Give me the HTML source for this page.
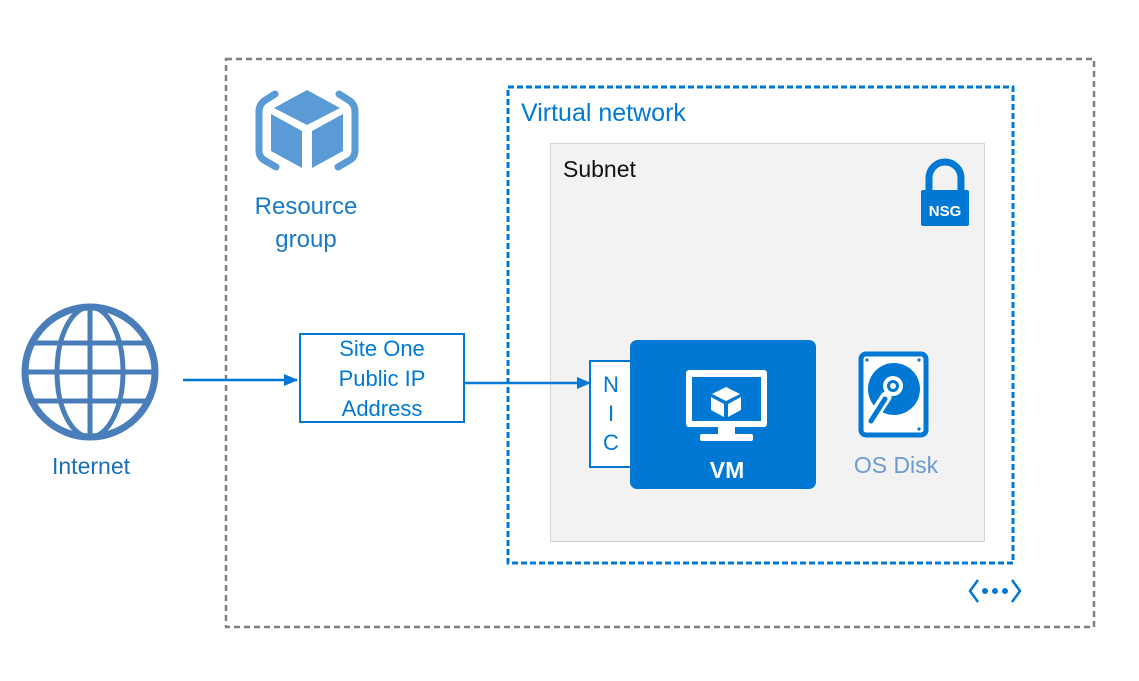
<!DOCTYPE html>
<html><head><meta charset="utf-8"><style>
html,body{margin:0;padding:0;background:#fff;}
svg{display:block;}
text{font-family:"Liberation Sans",sans-serif;}
</style></head><body>
<svg width="1139" height="681" viewBox="0 0 1139 681" xmlns="http://www.w3.org/2000/svg">
<defs>
<marker id="ah" markerWidth="14" markerHeight="14" refX="13" refY="7" orient="auto" markerUnits="userSpaceOnUse">
<path d="M0,1 L14,7 L0,13 z" fill="#0078d4"/>
</marker>
</defs>
<rect x="226" y="59" width="868" height="568" fill="none" stroke="#808080" stroke-width="2.5" stroke-dasharray="6,4"/>
<rect x="508" y="87" width="505" height="476" fill="none" stroke="#0078d4" stroke-width="3" stroke-dasharray="6,3"/>
<rect x="550.5" y="143.5" width="434" height="398" fill="#f2f2f2" stroke="#d4d4d4" stroke-width="1"/>

<!-- resource group icon -->
<g fill="#5a9bd5">
<path d="M275,94 L264,101 Q259,105 259,112 L259,150 Q259,157 264,160 L276,167" stroke="#5a9bd5" stroke-width="7" stroke-linecap="round" stroke-linejoin="round" fill="none"/>
<path d="M339,94 L350,101 Q355,105 355,112 L355,150 Q355,157 350,160 L338,167" stroke="#5a9bd5" stroke-width="7" stroke-linecap="round" stroke-linejoin="round" fill="none"/>
<polygon points="307,90 340,108 307,125 274,108"/>
<polygon points="271,114 302,131 302,168 271,151"/>
<polygon points="343,114 312,131 312,168 343,151"/>
</g>
<text x="306" y="214" font-size="24" fill="#1a7ac7" text-anchor="middle">Resource</text>
<text x="306" y="247" font-size="24" fill="#1a7ac7" text-anchor="middle">group</text>

<text x="521" y="121" font-size="25" fill="#0078d4">Virtual network</text>
<text x="563" y="177" font-size="23" fill="#111">Subnet</text>

<!-- NSG -->
<path d="M929,192 L929,178 A16,16 0 0 1 961,178 L961,192" fill="none" stroke="#0078d4" stroke-width="7"/>
<rect x="921" y="190" width="48" height="36" rx="2" fill="#0078d4"/>
<text x="945" y="216" font-size="15" font-weight="bold" fill="#fff" text-anchor="middle">NSG</text>

<!-- globe -->
<g fill="none" stroke="#4a7ebb" stroke-width="5">
<circle cx="90" cy="372" r="65" stroke-width="7"/>
<ellipse cx="90" cy="372" rx="33" ry="65"/>
<line x1="90" y1="307" x2="90" y2="437"/>
<line x1="27" y1="372" x2="153" y2="372"/>
<line x1="33" y1="343" x2="147" y2="343"/>
<line x1="33" y1="401" x2="147" y2="401"/>
</g>
<text x="91" y="474" font-size="23" fill="#1a6fb8" text-anchor="middle">Internet</text>

<line x1="183" y1="380" x2="297" y2="380" stroke="#0078d4" stroke-width="2.5" marker-end="url(#ah)"/>
<line x1="464" y1="383" x2="590" y2="383" stroke="#0078d4" stroke-width="2.5" marker-end="url(#ah)"/>

<rect x="300" y="334" width="164" height="88" fill="#fff" stroke="#0078d4" stroke-width="2"/>
<text x="382" y="356" font-size="22" fill="#0078d4" text-anchor="middle">Site One</text>
<text x="382" y="386" font-size="22" fill="#0078d4" text-anchor="middle">Public IP</text>
<text x="382" y="416" font-size="22" fill="#0078d4" text-anchor="middle">Address</text>

<rect x="590" y="361" width="44" height="106" fill="#fff" stroke="#0078d4" stroke-width="2"/>
<text x="611" y="392" font-size="22" fill="#0078d4" text-anchor="middle">N</text>
<text x="611" y="421" font-size="22" fill="#0078d4" text-anchor="middle">I</text>
<text x="611" y="450" font-size="22" fill="#0078d4" text-anchor="middle">C</text>

<rect x="630" y="340" width="186" height="149" rx="7" fill="#0078d4"/>
<rect x="686" y="370" width="81" height="57" rx="3" fill="#fff"/>
<rect x="692" y="377" width="69" height="44" fill="#0078d4"/>
<rect x="718" y="427" width="17" height="8" fill="#fff"/>
<rect x="700" y="434" width="53" height="7" rx="2" fill="#fff"/>
<g fill="#fff">
<polygon points="726,387 740,394 726,401 712,394"/>
<polygon points="711,397 724,404 724,417 711,410"/>
<polygon points="741,397 728,404 728,417 741,410"/>
</g>
<text x="727" y="478" font-size="23" font-weight="bold" fill="#fff" text-anchor="middle">VM</text>

<rect x="861" y="354" width="65" height="81" rx="5" fill="#fff" stroke="#0078d4" stroke-width="5"/>
<circle cx="867" cy="360" r="1.6" fill="#0078d4"/>
<circle cx="919" cy="360" r="1.6" fill="#0078d4"/>
<circle cx="919" cy="429" r="1.6" fill="#0078d4"/>
<circle cx="894" cy="389" r="26" fill="#0078d4"/>
<circle cx="893" cy="386" r="10" fill="#fff"/>
<circle cx="893" cy="386" r="6" fill="#0078d4"/>
<circle cx="893" cy="386" r="3" fill="#fff"/>
<line x1="886" y1="397" x2="869" y2="423" stroke="#fff" stroke-width="11" stroke-linecap="round"/>
<line x1="885" y1="399" x2="871" y2="421" stroke="#0078d4" stroke-width="5" stroke-linecap="round"/>
<text x="896" y="473" font-size="23" fill="#6b9bd0" text-anchor="middle">OS Disk</text>

<path d="M978,580 L970,591 L978,602" fill="none" stroke="#0078d4" stroke-width="2.5"/>
<path d="M1012,580 L1020,591 L1012,602" fill="none" stroke="#0078d4" stroke-width="2.5"/>
<circle cx="985" cy="591" r="3" fill="#0078d4"/>
<circle cx="995" cy="591" r="3" fill="#0078d4"/>
<circle cx="1005" cy="591" r="3" fill="#0078d4"/>
</svg>
</body></html>
